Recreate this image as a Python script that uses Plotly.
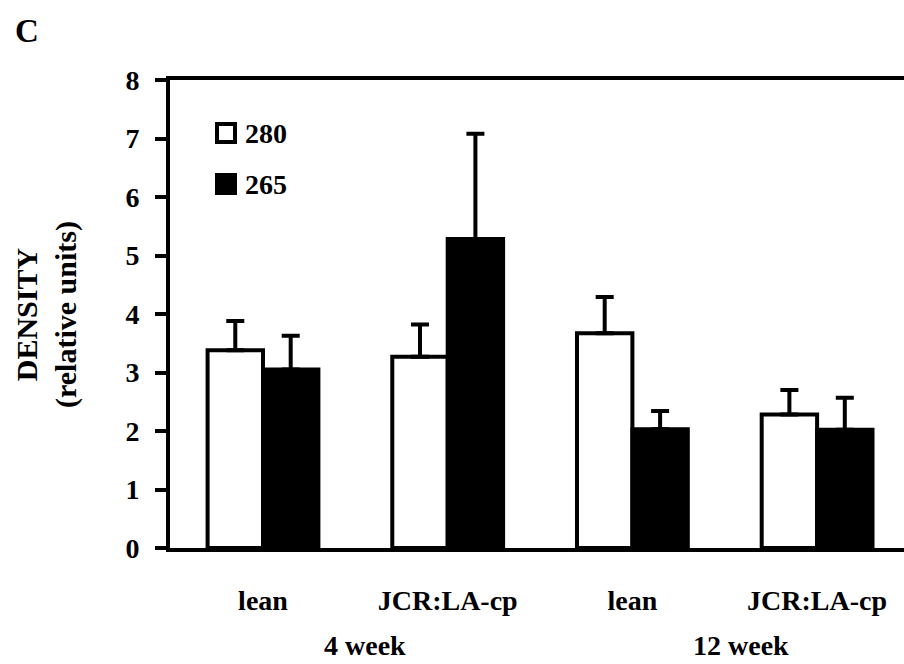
import plotly.graph_objects as go

# ---- data ----
categories = ["lean", "JCR:LA-cp", "lean", "JCR:LA-cp"]
groups = ["4 week", "12 week"]
series_names = ["280", "265"]
v280 = [3.38, 3.27, 3.67, 2.28]
e280 = [0.50, 0.55, 0.62, 0.42]
v265 = [3.05, 5.28, 2.03, 2.02]
e265 = [0.58, 1.80, 0.31, 0.55]
y_ticks = [0, 1, 2, 3, 4, 5, 6, 7, 8]

FONT = "Liberation Serif, Times New Roman, serif"
xpos = list(range(len(categories)))

fig = go.Figure()
fig.add_trace(go.Bar(
    x=xpos, y=v280, name=series_names[0],
    marker=dict(color="white", line=dict(color="black", width=4)),
    error_y=dict(type="data", array=e280, arrayminus=[0] * len(e280), symmetric=False,
                 color="black", thickness=4, width=9),
    showlegend=False,
))
fig.add_trace(go.Bar(
    x=xpos, y=v265, name=series_names[1],
    marker=dict(color="black", line=dict(color="black", width=4)),
    error_y=dict(type="data", array=e265, arrayminus=[0] * len(e265), symmetric=False,
                 color="black", thickness=4, width=9),
    showlegend=False,
))

# plot area: x 170..904 px, y 80..548 px
L, R, T, B = 170, 904, 80, 548
W, H = R - L, B - T
def px(x):
    return (x - L) / W
def py(y):
    return (B - y) / H

annotations = [
    dict(text="<b>C</b>", x=px(27), y=py(31), xref="paper", yref="paper",
         xanchor="center", yanchor="middle", showarrow=False,
         font=dict(family=FONT, size=33, color="black")),
    dict(text="<b>DENSITY</b><br><b>(relative units)</b>", x=px(46), y=py(315),
         xref="paper", yref="paper", xanchor="center", yanchor="middle",
         textangle=-90, showarrow=False,
         font=dict(family=FONT, size=30, color="black")),
    dict(text="<b>" + groups[0] + "</b>", x=(xpos[0] + xpos[1]) / 2 + 0.05, y=py(663),
         xref="x", yref="paper", xanchor="center", yanchor="bottom", showarrow=False,
         font=dict(family=FONT, size=28, color="black")),
    dict(text="<b>" + groups[1] + "</b>", x=(xpos[2] + xpos[3]) / 2 + 0.09, y=py(663),
         xref="x", yref="paper", xanchor="center", yanchor="bottom", showarrow=False,
         font=dict(family=FONT, size=28, color="black")),
    dict(text="<b>" + series_names[0] + "</b>", x=px(243), y=py(133),
         xref="paper", yref="paper", xanchor="left", yanchor="middle", showarrow=False,
         font=dict(family=FONT, size=28, color="black")),
    dict(text="<b>" + series_names[1] + "</b>", x=px(243), y=py(184),
         xref="paper", yref="paper", xanchor="left", yanchor="middle", showarrow=False,
         font=dict(family=FONT, size=28, color="black")),
]

shapes = [
    dict(type="rect", xref="paper", yref="paper", x0=px(217), x1=px(235), y0=py(142), y1=py(124),
         fillcolor="white", line=dict(color="black", width=4)),
    dict(type="rect", xref="paper", yref="paper", x0=px(215), x1=px(237), y0=py(195), y1=py(173),
         fillcolor="black", line=dict(color="black", width=0)),
]

fig.update_layout(
    width=904, height=664,
    margin=dict(l=L, r=904 - R, t=T, b=664 - B),
    paper_bgcolor="white", plot_bgcolor="white",
    barmode="group", bargap=0.4, bargroupgap=0,
    font=dict(family=FONT, color="black"),
    annotations=annotations, shapes=shapes,
    xaxis=dict(
        range=[-0.5035, 3.4705], tickvals=xpos,
        ticktext=["<b>" + c + "</b>" for c in categories],
        showline=True, linecolor="black", linewidth=4, mirror=True,
        ticks="", showgrid=False, zeroline=False, ticklabelstandoff=24,
        tickfont=dict(family=FONT, size=28, color="black"),
    ),
    yaxis=dict(
        range=[0, 8], tickvals=y_ticks, ticktext=["<b>" + str(t) + "</b>" for t in y_ticks],
        showline=True, linecolor="black", linewidth=4,
        ticks="outside", ticklen=11, tickwidth=4, tickcolor="black",
        showgrid=False, zeroline=False, ticklabelstandoff=10,
        tickfont=dict(family=FONT, size=28, color="black"),
    ),
)

fig.write_html("out.html")
